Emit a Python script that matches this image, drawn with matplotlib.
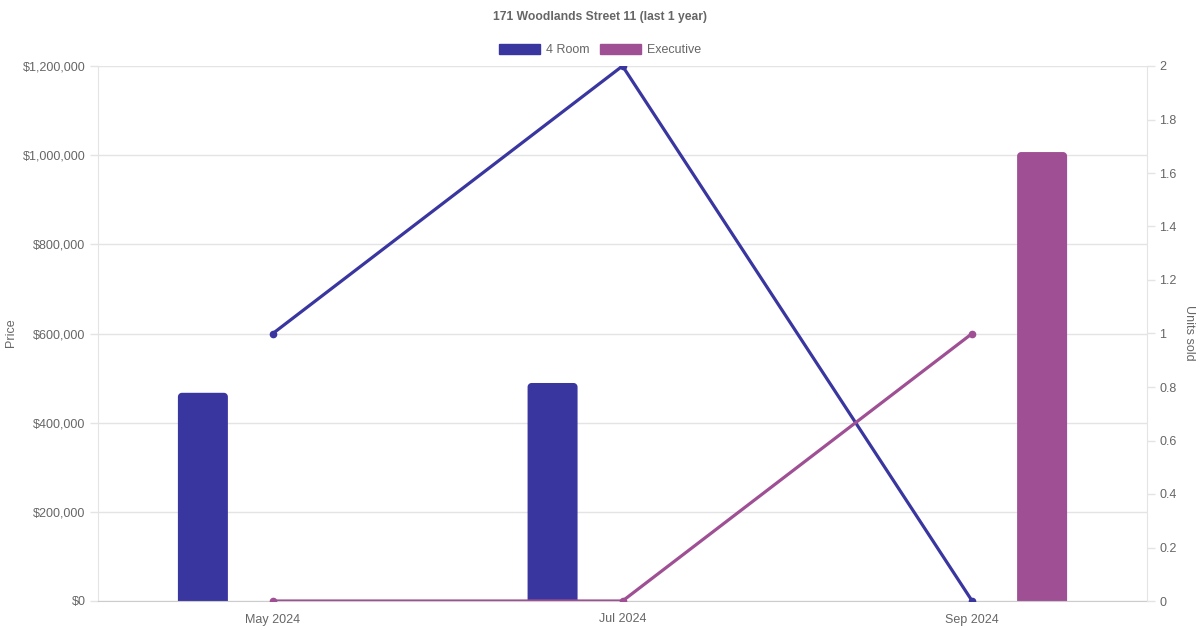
import matplotlib
matplotlib.use("Agg")
import numpy as np
import matplotlib.pyplot as plt
from matplotlib.patches import Patch, PathPatch
from matplotlib.path import Path
from matplotlib.ticker import FuncFormatter, MultipleLocator

plt.rcParams['font.family'] = ['Liberation Sans', 'DejaVu Sans']

months = ["May 2024", "Jul 2024", "Sep 2024"]
price_4room = [467000, 489000, None]
price_exec = [None, None, 1007000]
units_4room = [1, 2, 0]
units_exec = [0, 0, 1]

c4 = "#3a36a0"
ce = "#9f5094"
grid_c = "#e4e4e4"
txt_c = "#666666"

fig = plt.figure(figsize=(12, 6.3), dpi=100)
ax = fig.add_axes([98/1200, 1-601/630, (1147-98)/1200, (601-66)/630])
ax2 = ax.twinx()

x = list(range(len(months)))
bw = 50/349.7
off = 0.2
ax.set_xlim(-0.5, 2.5)
ax.set_ylim(0, 1200000)
ax2.set_ylim(0, 2)

bars = []
for i, v in enumerate(price_4room):
    if v is not None:
        bars += list(ax.bar(i - off, v, width=bw, color=c4, zorder=2))
for i, v in enumerate(price_exec):
    if v is not None:
        bars += list(ax.bar(i + off, v, width=bw, color=ce, zorder=2))

# round top corners (single path in pixel space)
r = 4
for b in bars:
    (x0, y0), (x1, y1) = ax.transData.transform([(b.get_x(), 0), (b.get_x() + b.get_width(), b.get_height())])
    col = b.get_facecolor()
    b.set_visible(False)
    t = np.linspace(0, np.pi / 2, 10)
    pts = [(x0, y0), (x1, y0)]
    pts += [(x1 - r + r * np.cos(a), y1 - r + r * np.sin(a)) for a in t]
    pts += [(x0 + r - r * np.sin(a), y1 - r + r * np.cos(a)) for a in t]
    pts.append((x0, y0))
    ax.add_artist(PathPatch(Path(pts, closed=True), transform=None,
                            facecolor=col, edgecolor='none', zorder=2))

ax2.plot(x, units_4room, color=c4, lw=2.3, marker='o', ms=4.5, zorder=3)
ax2.plot(x, units_exec, color=ce, lw=2.3, marker='o', ms=4.5, zorder=3)

ax.set_xticks(x)
ax.set_xticklabels(months)
ax.yaxis.set_major_locator(MultipleLocator(200000))
ax.yaxis.set_major_formatter(FuncFormatter(lambda v, p: "${:,.0f}".format(v)))
ax2.yaxis.set_major_locator(MultipleLocator(0.2))
ax2.yaxis.set_major_formatter(FuncFormatter(lambda v, p: "{:g}".format(round(v, 1))))

ax.grid(axis='y', color=grid_c, lw=1, zorder=0)
ax.set_axisbelow(True)
for a in (ax, ax2):
    for s in a.spines.values():
        s.set_visible(False)
    a.tick_params(colors=txt_c, labelsize=9, length=6, width=1)
    a.tick_params(axis='y', color=grid_c)
ax.tick_params(axis='x', length=0, pad=9)
ax.spines['left'].set_visible(True)
ax.spines['left'].set_color(grid_c)
ax.spines['bottom'].set_visible(True)
ax.spines['bottom'].set_color("#cccccc")
ax2.spines['right'].set_visible(True)
ax2.spines['right'].set_color(grid_c)
ax.tick_params(axis='y', pad=3)
ax2.tick_params(axis='y', pad=3)

fig.text(11/1200, 1-333/630, "Price", rotation=90, ha='center', va='center',
         color=txt_c, fontsize=9)
fig.text(1189/1200, 1-333/630, "Units sold", rotation=270, ha='center', va='center',
         color=txt_c, fontsize=9)

fig.text(0.5, 1-17/630, "171 Woodlands Street 11 (last 1 year)", ha='center', va='center',
         fontsize=8.7, fontweight='bold', color=txt_c)

handles = [Patch(facecolor=c4, edgecolor=c4), Patch(facecolor=ce, edgecolor=ce)]
fig.legend(handles, ["4 Room", "Executive"], loc='center', bbox_to_anchor=(0.5, 1-50/630),
           ncol=2, frameon=False, fontsize=9, handlelength=3.3, handleheight=0.9,
           handletextpad=0.5, columnspacing=0.8, labelcolor=txt_c)

fig.savefig("out.png", dpi=100)
